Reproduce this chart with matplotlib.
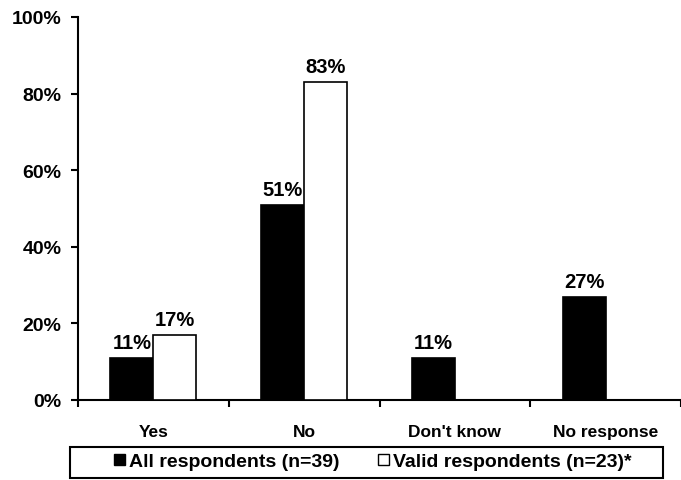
import matplotlib
matplotlib.use("Agg")
import matplotlib.pyplot as plt
from matplotlib.patches import Rectangle, Patch
import numpy as np

categories = ["Yes", "No", "Don't know", "No response"]
all_resp = [11, 51, 11, 27]
valid_resp = [17, 83, None, None]
series_labels = ["All respondents (n=39)", "Valid respondents (n=23)*"]
yticks = [0, 20, 40, 60, 80, 100]
ytick_labels = ["0%", "20%", "40%", "60%", "80%", "100%"]

plt.rcParams['font.family'] = ['Liberation Sans', 'DejaVu Sans']
plt.rcParams['font.weight'] = 'bold'

W, H = 681, 481
fig = plt.figure(figsize=(W / 100, H / 100), dpi=100)

x0, x1 = 78, 681
ybot, ytop = 401, 18
ax = fig.add_axes([x0 / W, (H - ybot) / H, (x1 - x0) / W, (ybot - ytop) / H])

cat_w = 153.0
xmax = -0.5 + (x1 - x0) / cat_w
ax.set_xlim(-0.5, xmax)
ax.set_ylim(0, 100)

bw = 0.285
x = np.arange(len(categories))
ax.bar(x - bw / 2, all_resp, width=bw, color='black', edgecolor='black', linewidth=1.2, zorder=3)
vx = [xi + bw / 2 for xi, v in zip(x, valid_resp) if v is not None]
vv = [v for v in valid_resp if v is not None]
ax.bar(vx, vv, width=bw, color='white', edgecolor='black', linewidth=1.2, zorder=3)

for xi, v in zip(x, all_resp):
    ax.annotate(f"{v}%", (xi - bw / 2, v), xytext=(0, 7), textcoords='offset points',
                ha='center', va='baseline', fontsize=14.5, fontweight='bold')
for xi, v in zip(vx, vv):
    ax.annotate(f"{v}%", (xi, v), xytext=(0, 7), textcoords='offset points',
                ha='center', va='baseline', fontsize=14.5, fontweight='bold')

for s in ['top', 'right']:
    ax.spines[s].set_visible(False)
for s in ['left', 'bottom']:
    ax.spines[s].set_linewidth(1.5)

ax.set_yticks(yticks)
ax.set_yticklabels(ytick_labels, fontsize=14, fontweight='bold')
ax.tick_params(axis='y', direction='out', length=5, width=1.5, pad=7)

ax.set_xticks(np.arange(len(categories) + 1) - 0.5)
ax.set_xticklabels([])
ax.tick_params(axis='x', which='major', direction='out', length=5, width=1.5)
ax.set_xticks(x, minor=True)
ax.set_xticklabels(categories, minor=True, fontsize=12.5, fontweight='bold')
ax.tick_params(axis='x', which='minor', length=0, pad=17)

# legend frame
fig.add_artist(Rectangle((70 / W, (H - 479) / H), (663 - 70) / W, (479 - 447.5) / H,
                         transform=fig.transFigure, fill=False, edgecolor='black', linewidth=1.5))
handles = [Patch(facecolor='black', edgecolor='black', linewidth=1),
           Patch(facecolor='white', edgecolor='black', linewidth=1)]
fig.legend(handles, series_labels, loc='center', bbox_to_anchor=(373 / W, (H - 463) / H),
           ncol=2, frameon=False, prop={'size': 14, 'weight': 'bold'},
           handlelength=0.55, handleheight=0.55, handletextpad=0.2, columnspacing=2.0,
           borderpad=0, borderaxespad=0)

fig.savefig("out.png", dpi=100)
